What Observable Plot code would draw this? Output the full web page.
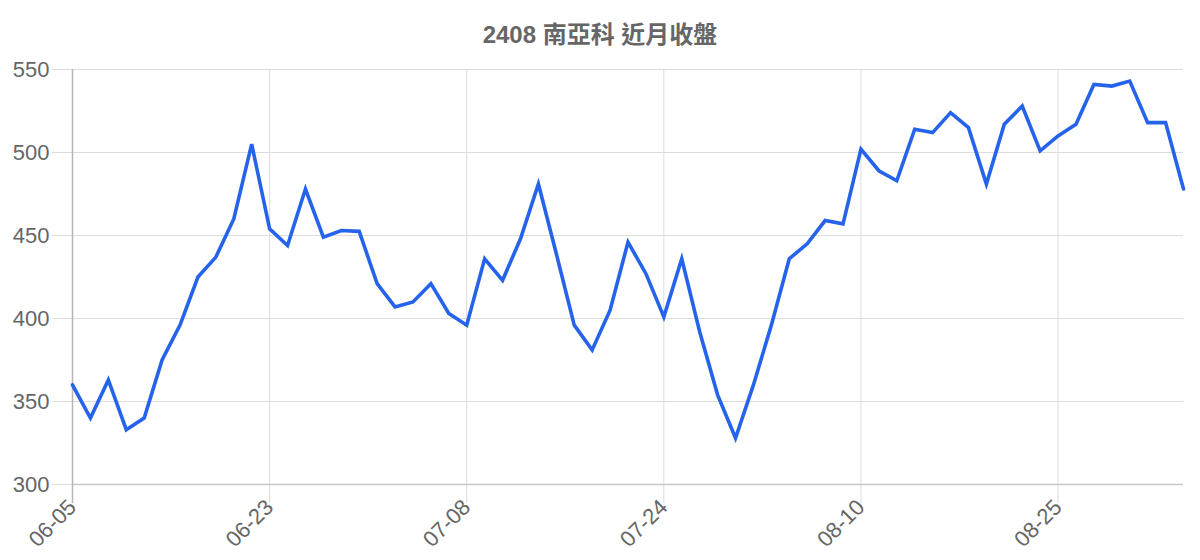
<!DOCTYPE html>
<html>
<head>
<meta charset="utf-8">
<script src="https://cdn.jsdelivr.net/npm/d3@7"></script>
<script src="https://cdn.jsdelivr.net/npm/@observablehq/plot@0.6"></script>
<style>
  html, body { margin: 0; padding: 0; background: #fff; }
  #title {
    box-sizing: border-box; height: 56px; padding-top: 23px;
    text-align: center; font: bold 24px/24px "Liberation Sans", Arial, "Noto Sans CJK TC", sans-serif;
    color: #666;
  }
</style>
</head>
<body>
<div id="title"></div>
<div id="chart"></div>
<script>
const titleText = "2408 南亞科 近月收盤";

// closing prices, one per trading day (63 days)
const closes = [
  360, 340, 363, 333, 340, 375, 396, 425, 437, 460,
  505, 454, 444, 478, 449, 453, 452.5, 421, 407, 410,
  421, 403, 396, 436, 423, 448, 481, 439, 396, 381,
  405, 446, 427, 401, 436, 392, 354, 328, 360, 396,
  436, 445, 459, 457, 502, 489, 483, 514, 512, 524,
  515, 481, 517, 528, 501, 510, 517, 541, 540, 543,
  518, 518, 478
];
const dayIndex = closes.map((_, i) => i);

// labelled x ticks (day index -> date label)
const xTickIndex = [0, 11, 22, 33, 44, 55];
const xTickLabels = ["06-05", "06-23", "07-08", "07-24", "08-10", "08-25"];

const yTicks = [300, 350, 400, 450, 500, 550];

document.getElementById("title").textContent = titleText;

const gridColor = "#dcdcdc";
const textColor = "#666";

const chart = Plot.plot({
  width: 1200,
  height: 504,
  marginTop: 13,
  marginBottom: 76,
  marginLeft: 72,
  marginRight: 17,
  style: { fontFamily: "'Liberation Sans', Arial, sans-serif", background: "#fff", overflow: "visible" },
  x: { type: "linear", domain: [0, closes.length - 1] },
  y: { domain: [300, 550] },
  marks: [
    Plot.gridY({ ticks: yTicks, stroke: gridColor, strokeOpacity: 1 }),
    Plot.gridX({ ticks: xTickIndex, stroke: gridColor, strokeOpacity: 1 }),
    Plot.axisY({
      ticks: yTicks, tickSize: 20, tickPadding: 3,
      stroke: gridColor, fill: textColor, fontSize: 22, label: null
    }),
    Plot.axisX({
      ticks: xTickIndex, tickSize: 19, tickPadding: 0, tickRotate: -45,
      tickFormat: d => xTickLabels[xTickIndex.indexOf(d)],
      stroke: gridColor, fill: textColor, fontSize: 22, label: null
    }),
    Plot.ruleY([300], { stroke: "#c8c8c8", strokeWidth: 1.5 }),
    Plot.ruleX([0], { stroke: "#b5b5b5", strokeWidth: 1.5 }),
    Plot.axisX({
      ticks: [0], tickSize: 19, tickFormat: () => "",
      stroke: "#b5b5b5", strokeWidth: 1.5, label: null
    }),
    Plot.lineY(closes, {
      x: dayIndex, y: closes,
      stroke: "#2563eb", strokeWidth: 3.6, strokeLinejoin: "miter", strokeMiterlimit: 4
    })
  ]
});
document.getElementById("chart").appendChild(chart);
</script>
</body>
</html>
